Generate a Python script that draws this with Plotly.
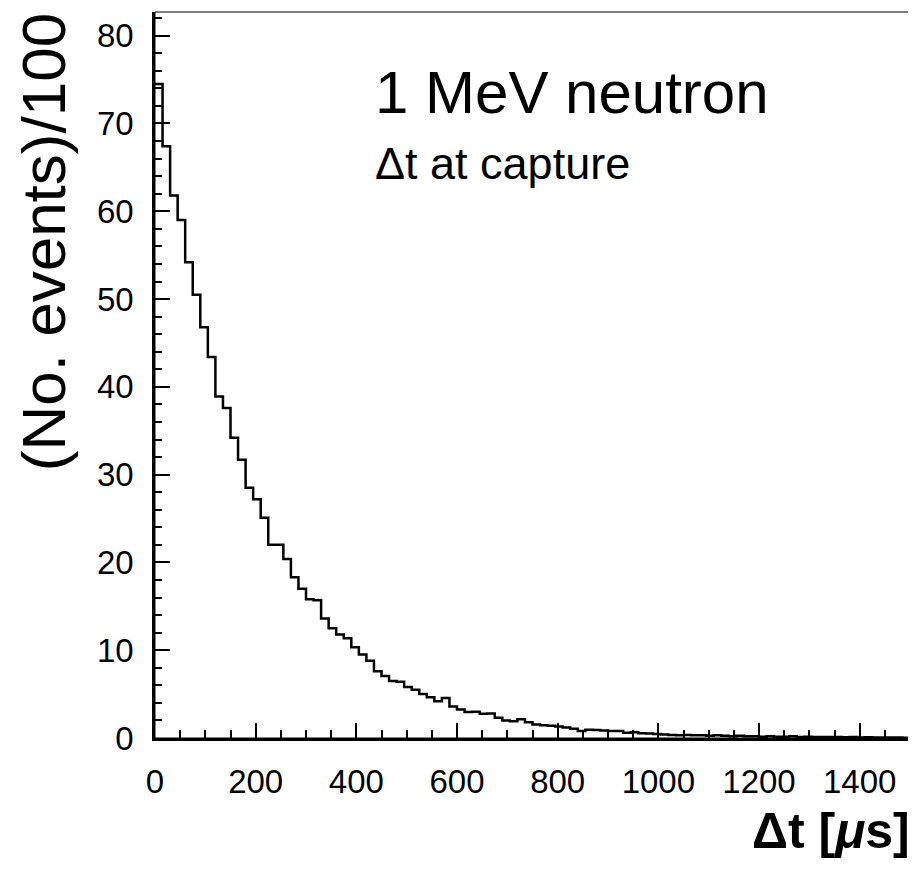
import plotly.graph_objects as go

# Histogram: 100 bins of 15 us from 0 to 1500 us
bin_width = 15
bin_start = 0
counts = [
    74.5, 67.4, 61.8, 59.0, 54.2, 50.5, 46.8, 43.4, 38.9, 37.6,
    34.2, 31.7, 28.5, 27.2, 25.1, 22.0, 22.0, 20.4, 18.3, 17.0,
    15.8, 15.7, 13.6, 12.5, 11.8, 11.35, 10.35, 9.5, 8.8, 7.6,
    7.05, 6.5, 6.4, 5.8, 5.5, 5.0, 4.65, 4.2, 4.55, 3.6,
    3.25, 2.95, 3.0, 2.75, 2.8, 2.3, 2.0, 1.9, 2.15, 1.8,
    1.55, 1.45, 1.4, 1.3, 1.2, 1.05, 0.8, 0.95, 0.9, 0.85,
    0.8, 0.8, 0.6, 0.65, 0.55, 0.5, 0.45, 0.4, 0.35, 0.3,
    0.35, 0.3, 0.3, 0.25, 0.3, 0.25, 0.2, 0.25, 0.2, 0.2,
    0.15, 0.2, 0.15, 0.15, 0.2, 0.1, 0.15, 0.1, 0.12, 0.1,
    0.1, 0.08, 0.1, 0.06, 0.08, 0.05, 0.07, 0.05, 0.05, 0.04,
]
x_tickvals = [0, 200, 400, 600, 800, 1000, 1200, 1400]
y_tickvals = [0, 10, 20, 30, 40, 50, 60, 70, 80]

title_text = "1 MeV neutron"
subtitle_text = "Δt at capture"
x_title = "<b>Δt [<i>μ</i>s]</b>"
y_title = "(No. events)/100"

edges = [bin_start + i * bin_width for i in range(len(counts) + 1)]
xs = edges
ys = counts + [counts[-1]]

fig = go.Figure()
fig.add_trace(go.Scatter(
    x=xs, y=ys, mode="lines", line=dict(shape="hv", color="black", width=2.5),
    hoverinfo="skip", showlegend=False,
))

tick_font = dict(family="Liberation Sans Narrow, Liberation Sans, Arial, sans-serif", size=33, color="black")

# page body has an 8px margin; figure sized/offset to compensate
fig.update_layout(
    width=908, height=864,
    margin=dict(l=147, r=6, t=4, b=134, autoexpand=False),
    paper_bgcolor="white", plot_bgcolor="white",
    xaxis=dict(
        range=[0, 1500], tickvals=x_tickvals, ticks="inside", ticklen=15, tickwidth=1.5,
        tickcolor="black", showgrid=False, zeroline=False, automargin=False,
        showline=True, linecolor="black", linewidth=2.5, mirror=False,
        tickfont=tick_font, ticklabelstandoff=13,
        minor=dict(dtick=50, ticks="inside", ticklen=8, tickwidth=1.5, tickcolor="black", showgrid=False),
    ),
    yaxis=dict(
        range=[0, 82.7], tickvals=y_tickvals, ticks="inside", ticklen=15, tickwidth=1.5,
        tickcolor="black", showgrid=False, zeroline=False, automargin=False,
        showline=True, linecolor="black", linewidth=2.5, mirror=False,
        tickfont=tick_font, ticklabelstandoff=12,
        minor=dict(dtick=2, ticks="inside", ticklen=7, tickwidth=1.5, tickcolor="black", showgrid=False),
    ),
    shapes=[dict(type="rect", xref="paper", yref="paper", x0=0, y0=0, x1=1, y1=1,
                 line=dict(color="black", width=1), layer="above")],
    annotations=[
        dict(text=title_text, xref="paper", yref="paper", x=0.2887, y=0.8898,
             xanchor="left", yanchor="middle", showarrow=False,
             font=dict(family="Liberation Sans, Arial, sans-serif", size=60, color="black")),
        dict(text=subtitle_text, xref="paper", yref="paper", x=0.2887, y=0.792,
             xanchor="left", yanchor="middle", showarrow=False,
             font=dict(family="Liberation Sans, Arial, sans-serif", size=45, color="black")),
        dict(text=y_title, xref="paper", yref="paper", x=-0.1483, y=0.683,
             xanchor="center", yanchor="middle", textangle=-90, showarrow=False,
             font=dict(family="Liberation Sans, Arial, sans-serif", size=62, color="black")),
        dict(text=x_title, xref="paper", yref="paper", x=1.0026, y=-0.128,
             xanchor="right", yanchor="middle", showarrow=False,
             font=dict(family="Liberation Sans, Arial, sans-serif", size=50, color="black")),
    ],
)

fig.write_html("out.html")
